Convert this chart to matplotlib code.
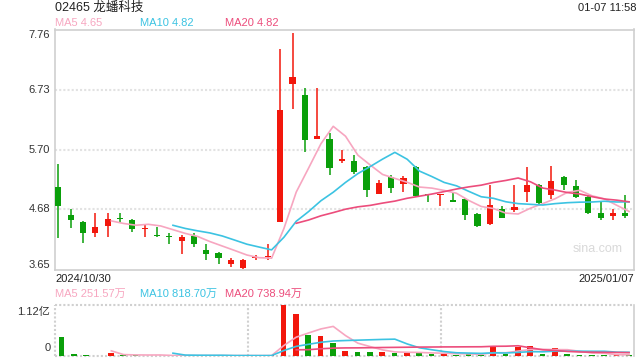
import matplotlib
matplotlib.use('Agg')
import matplotlib.pyplot as plt
import numpy as np
import pandas as pd

plt.rcParams['font.family'] = ['Liberation Sans', 'Noto Sans CJK SC']

# 日K数据 2024/10/30 - 2025/01/07
opens = [5.06, 4.58, 4.46, 4.28, 4.40, 4.53, 4.50, 4.35, 4.24, 4.22,
         4.13, 4.22, 3.98, 3.93, 3.74, 3.68, 3.85, 3.86, 4.47, 6.82,
         6.64, 5.89, 5.89, 5.50, 5.51, 5.41, 4.95, 5.24, 5.12, 5.40,
         4.94, 4.92, 4.84, 4.86, 4.60, 4.43, 4.69, 4.67, 4.98, 5.10,
         4.93, 5.24, 5.08, 4.90, 4.62, 4.57, 4.62]
highs = [5.46, 4.69, 4.48, 4.62, 4.62, 4.62, 4.51, 4.41, 4.38, 4.27,
         4.24, 4.27, 4.09, 3.95, 3.84, 3.83, 3.90, 4.09, 7.43, 7.70,
         6.76, 6.75, 5.99, 5.70, 5.61, 5.42, 5.18, 5.26, 5.25, 5.43,
         4.95, 4.94, 4.97, 4.87, 4.61, 5.10, 4.74, 5.09, 5.40, 5.11,
         5.43, 5.25, 5.18, 4.91, 4.80, 4.68, 4.93]
lows = [4.19, 4.36, 4.10, 4.20, 4.20, 4.44, 4.30, 4.20, 4.20, 4.09,
        3.92, 4.04, 3.82, 3.74, 3.69, 3.66, 3.81, 3.82, 4.47, 6.40,
        5.67, 5.88, 5.27, 5.47, 5.29, 4.90, 4.95, 4.96, 4.98, 4.89,
        4.80, 4.73, 4.80, 4.49, 4.38, 4.41, 4.53, 4.63, 4.81, 4.77,
        4.86, 5.01, 4.87, 4.60, 4.50, 4.49, 4.54]
closes = [4.74, 4.50, 4.28, 4.37, 4.52, 4.52, 4.35, 4.36, 4.23, 4.20,
          4.20, 4.09, 3.92, 3.85, 3.82, 3.81, 3.86, 3.88, 6.39, 6.94,
          5.86, 5.94, 5.38, 5.54, 5.32, 5.02, 5.13, 5.04, 5.21, 4.91,
          4.93, 4.93, 4.80, 4.59, 4.40, 4.75, 4.54, 4.72, 5.09, 4.79,
          5.17, 5.09, 4.89, 4.62, 4.53, 4.62, 4.56]
# 成交量（万股）
volumes = [4260, 450, 200, 60, 670, 150, 120, 80, 100, 100,
           80, 100, 100, 90, 80, 90, 70, 120, 11200, 9200,
           4700, 4500, 2900, 1100, 900, 900, 900, 700, 700, 700,
           400, 550, 250, 400, 250, 2170, 500, 2050, 2230, 420,
           1820, 410, 250, 250, 240, 290, 230]

price_ticks = [3.65, 4.68, 5.70, 6.73, 7.76]
date_labels = ['2024/10/30', '2025/01/07']
title = '02465 龙蟠科技'
time_text = '01-07 11:58'
ma_labels = ['MA5 4.65', 'MA10 4.82', 'MA20 4.82']
vol_ma_labels = ['MA5 251.57万', 'MA10 818.70万', 'MA20 738.94万']
vol_ticks = ['1.12亿', '0']

red = '#f2170c'
green = '#0a9f0a'
ma_colors = ['#f7a6c0', '#3cc3e2', '#ec4d7c']
grid_c = '#e2e2e2'
border_c = '#cfcfcf'

o = np.array(opens); h = np.array(highs); l = np.array(lows); c = np.array(closes)
v = np.array(volumes) * 1e4
x = np.arange(len(c))
cols = np.where(c >= o, red, green)

fig = plt.figure(figsize=(6.4, 3.6), dpi=100)
ax = fig.add_axes([55/640, 1-269.5/360, 579/640, 240/360])
axv = fig.add_axes([55/640, 1-356/360, 579/640, 51/360])

# K线
for g in price_ticks[1:-1]:
    ax.axhline(g, color=grid_c, lw=1.5, ls=(0, (1, 1)), zorder=0)
ax.vlines(x, l, h, colors=cols, lw=1.1, zorder=2)
ax.bar(x, np.maximum(np.abs(c - o), 0.018), bottom=np.minimum(o, c), width=0.5,
       color=cols, lw=0, zorder=3)
cs = pd.Series(c)
for n, col in zip([5, 10, 20], ma_colors):
    ax.plot(x + 0.3, cs.rolling(n).mean(), color=col, lw=1.2, zorder=4)

ax.set_xlim(-0.27, 46.7)
ax.set_ylim(3.65, 7.76)
ax.set_xticks([]); ax.set_yticks([])
for s in ax.spines.values():
    s.set_color(border_c); s.set_linewidth(1.2)
for t in price_ticks:
    va = 'center'
    if t == price_ticks[0]:
        va = 'bottom'
    elif t == price_ticks[-1]:
        va = 'top'
    ax.text(-0.008, t, f'{t:.2f}', transform=ax.get_yaxis_transform(),
            ha='right', va=va, fontsize=8, color='#333333')
ax.text(0.981, 0.085, 'sina.com', transform=ax.transAxes, ha='right',
        va='center', fontsize=9, color='#d9d9d9')

# 成交量
axv.bar(x + 0.27, v, width=0.46, color=cols, lw=0, zorder=3)
vs = pd.Series(v)
for n, col in zip([5, 10, 20], ma_colors):
    axv.plot(x + 0.3, vs.rolling(n).mean(), color=col, lw=1.2, zorder=4)
axv.set_xlim(-0.27, 46.7)
axv.set_ylim(0, 1.12e8)
axv.set_xticks([]); axv.set_yticks([])
for s in axv.spines.values():
    s.set_visible(False)
dot = dict(color='#d0d0d0', lw=1.5, ls=(0, (1, 1)), transform=axv.transAxes,
           clip_on=False, zorder=1)
axv.plot([0, 1], [1, 1], **dot)
axv.plot([0, 1], [0, 0], **dot)
axv.plot([0, 0], [0, 1], **dot)
axv.plot([1/3, 1/3], [0, 1], **dot)
axv.plot([2/3, 2/3], [0, 1], **dot)
axv.plot([1, 1], [0, 1], color=border_c, lw=1.2, transform=axv.transAxes,
         clip_on=False)
axv.text(-0.008, 0.97, vol_ticks[0], transform=axv.transAxes, ha='right',
         va='top', fontsize=8, color='#333333')
axv.text(-0.008, 0.05, vol_ticks[1], transform=axv.transAxes, ha='right',
         va='bottom', fontsize=8, color='#333333')

# 文字
fig.text(55/640, 1-8/360, title, ha='left', va='center', fontsize=9, color='#222222')
fig.text(636/640, 1-8/360, time_text, ha='right', va='center', fontsize=8, color='#222222')
for lbl, col, xp in zip(ma_labels, ma_colors, [55, 140, 225]):
    fig.text(xp/640, 1-23/360, lbl, ha='left', va='center', fontsize=8, color=col)
for lbl, col, xp in zip(vol_ma_labels, ma_colors, [55, 140, 225]):
    fig.text(xp/640, 1-294/360, lbl, ha='left', va='center', fontsize=8, color=col)
fig.text(55/640, 1-279/360, date_labels[0], ha='left', va='center', fontsize=8, color='#222222')
fig.text(634/640, 1-279/360, date_labels[1], ha='right', va='center', fontsize=8, color='#222222')

fig.savefig('out.png', dpi=100)
